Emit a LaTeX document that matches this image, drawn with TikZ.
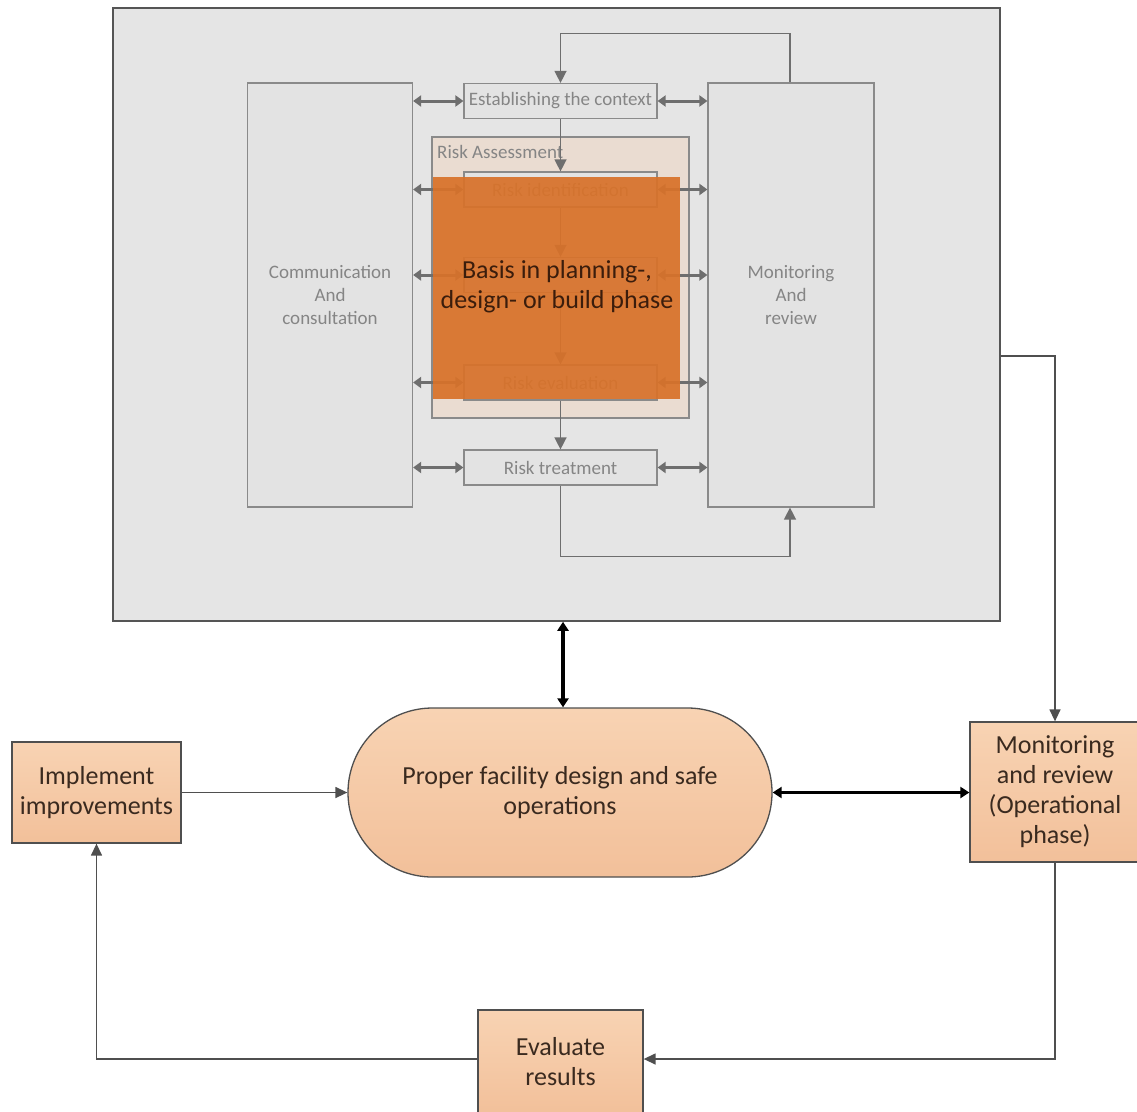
\documentclass[tikz,border=0pt]{standalone}
\usepackage{fontspec}
\setmainfont{Carlito}
\usetikzlibrary{arrows.meta,calc}

\definecolor{panelgray}{HTML}{E5E5E5}
\definecolor{panelline}{HTML}{555555}
\definecolor{innerfill}{HTML}{E3E3E3}
\definecolor{innerline}{HTML}{8A8A8A}
\definecolor{innertext}{HTML}{858585}
\definecolor{innerarrow}{HTML}{6E6E6E}
\definecolor{assessfill}{HTML}{EADCD1}
\definecolor{overlay}{HTML}{D8722A}
\definecolor{overlaytext}{HTML}{3B1D0C}
\definecolor{peachtop}{HTML}{F8D3B3}
\definecolor{peachbot}{HTML}{F2C09A}
\definecolor{boxline}{HTML}{4F4F4F}
\definecolor{boxtext}{HTML}{3A2A1F}

\tikzset{
  innerbox/.style={draw=innerline, line width=1.2pt, fill=innerfill, text=innertext,
    inner sep=0pt, align=center, font=\fontsize{19}{23}\selectfont},
  stepbox/.style={innerbox, minimum width=193, minimum height=35},
  twoway/.style={draw=innerarrow, line width=3pt, {Triangle[length=8,width=11]}-{Triangle[length=8,width=11]}},
  flowin/.style={draw=innerarrow, line width=1.4pt, -{Triangle[length=12,width=12]}},
  peachbox/.style={draw=boxline, line width=1.3pt, top color=peachtop, bottom color=peachbot,
    text=boxtext, inner sep=0pt, align=center, font=\fontsize{26}{30}\selectfont},
  link/.style={draw=boxline, line width=1.4pt, -{Triangle[length=12,width=11]}},
  boldlink/.style={draw=black, line width=3.5pt, {Triangle[length=9,width=11]}-{Triangle[length=9,width=11]}}
}

\begin{document}
\begin{tikzpicture}[x=1pt,y=-1pt]
\useasboundingbox (0,0) rectangle (1137,1111);
\clip (0,0) rectangle (1137,1111);
\fill[white] (0,0) rectangle (1137,1111);

% planning-phase panel
\node[draw=panelline, line width=1.5pt, fill=panelgray, minimum width=887, minimum height=613, inner sep=0pt]
  (panel) at (556.5,314.5) {};

\node[innerbox, minimum width=165, minimum height=424] (comm) at (330,295)
  {Communication\\And\\consultation};
\node[innerbox, minimum width=166, minimum height=424] (monin) at (791,295)
  {Monitoring\\And\\review};

\node[draw=innerline, line width=1.2pt, fill=assessfill, minimum width=257, minimum height=281, inner sep=0pt]
  (assess) at (560.5,277.5) {};
\node[anchor=west, text=innertext, inner sep=0pt, font=\fontsize{19}{22}\selectfont]
  (assesslbl) at (437,152) {Risk Assessment};

\node[stepbox] (estab) at (560.5,101) {Establishing the context};
\node[stepbox] (riskid) at (560.5,189.5) {Risk identification};
\node[stepbox] (riskan) at (560.5,275) {};
\node[stepbox] (riskev) at (560.5,382.5) {Risk evaluation};
\node[stepbox] (riskt) at (560.5,467.5) {Risk treatment};

% process chain
\draw[flowin] (estab.south) -- (riskid.north);
\draw[flowin] (riskid.south) -- (riskan.north);
\draw[flowin] (riskan.south) -- (riskev.north);
\draw[flowin] (riskev.south) -- (riskt.north);
\draw[flowin] ([xshift=-1pt]monin.north) -- ++(0,-49) -| (estab.north);
\draw[flowin] (riskt.south) -- ++(0,71) -| ([xshift=-1pt]monin.south);

% communication and monitoring exchanges
\foreach \s in {estab,riskid,riskan,riskev,riskt}{
  \draw[twoway] (comm.east |- \s.west) -- (\s.west);
  \draw[twoway] (\s.east) -- (monin.west |- \s.east);
}

% overlay block
\node[fill=overlay, fill opacity=0.93, minimum width=247, minimum height=222, inner sep=0pt]
  (basis) at (556,288) {};
\node[text=overlaytext, align=center, font=\fontsize{26}{30}\selectfont] (basistxt) at (557,287)
  {Basis in planning-,\\design- or build phase};

% operational loop
\node[peachbox, minimum width=424, minimum height=169, rounded corners=84.5pt] (core) at (560,792.5)
  {Proper facility design and safe\\operations};
\node[peachbox, minimum width=169, minimum height=101] (impl) at (96.5,792.5)
  {Implement\\improvements};
\node[peachbox, minimum width=170, minimum height=140] (monop) at (1055,792)
  {Monitoring\\and review\\(Operational\\phase)};
\node[peachbox, minimum width=165, minimum height=104] (evalr) at (560.5,1062)
  {Evaluate\\results};

\coordinate (panelout) at (panel.east |- 0,356);
\draw[link] (panelout) -| (monop.north);
\draw[boldlink] ([xshift=3pt]core.north |- panel.south) -- ([xshift=3pt]core.north);
\draw[boldlink] (core.east) -- (monop.west |- core.east);
\draw[link] (impl.east) -- (core.west);
\draw[link] (monop.south) |- ([yshift=3pt]evalr.east);
\draw[link] ([yshift=3pt]evalr.west) -| (impl.south);
\end{tikzpicture}
\end{document}
